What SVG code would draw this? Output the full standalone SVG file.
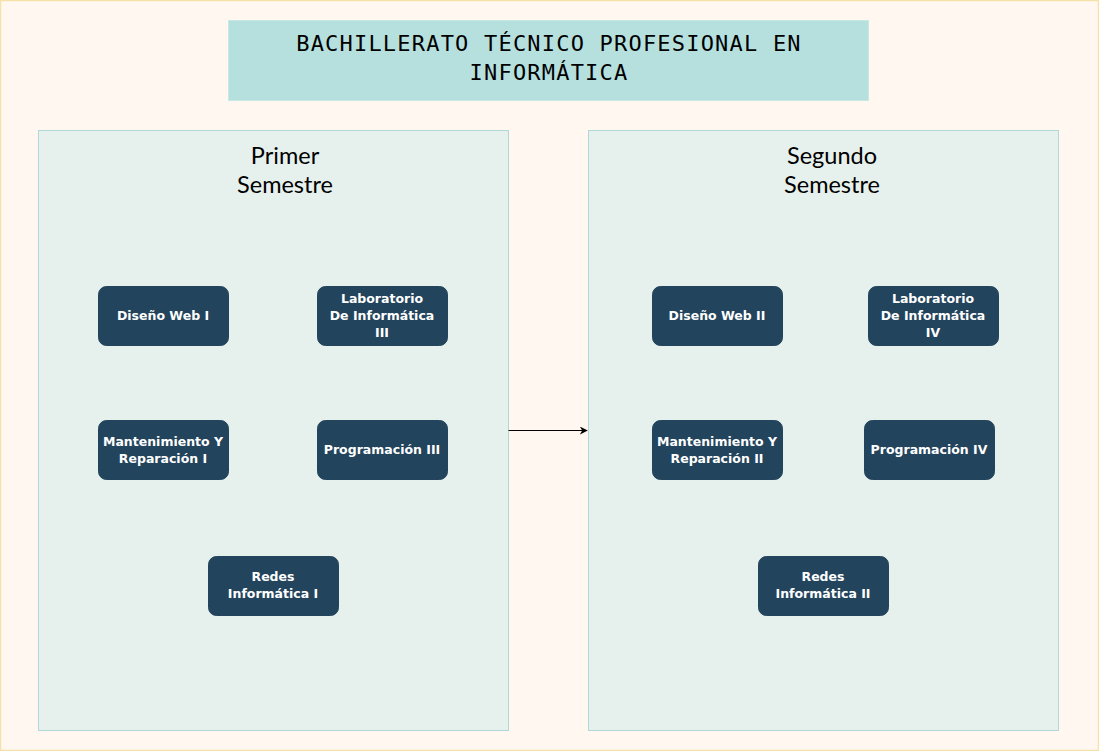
<svg xmlns="http://www.w3.org/2000/svg" width="1099" height="751" viewBox="0 0 1099 751">
<defs>
<style>
.node rect{fill:#23445D;stroke:#23445D;}
.node text{font-family:"DejaVu Sans","Liberation Sans",sans-serif;font-weight:bold;font-size:12.5px;fill:#FFFFFF;text-anchor:middle;}
.cont{fill:#E6F0EC;stroke:#B0D8D6;stroke-width:1;}
.sem{font-family:Lato,"Liberation Sans",sans-serif;font-size:23.5px;fill:#000;text-anchor:middle;}
</style>
<marker id="arr" viewBox="0 0 10 10" refX="9" refY="5" markerWidth="8" markerHeight="8" orient="auto" markerUnits="userSpaceOnUse">
<path d="M0,0 L10,5 L0,10 L3,5 z" fill="#000"/>
</marker>
</defs>
<rect x="0.5" y="0.5" width="1098" height="750" fill="#FFF7F0" stroke="#F5E2A8" stroke-width="1.5"/>
<g id="title">
<rect x="228.5" y="20.5" width="640" height="80" fill="#B6E0DE" stroke="#C8E8E4"/>
<text font-family="'DejaVu Sans Mono','Liberation Mono',monospace" font-size="22" text-anchor="middle" fill="#000" letter-spacing="1.2"><tspan x="549" y="51">BACHILLERATO TÉCNICO PROFESIONAL EN</tspan><tspan x="549" y="80">INFORMÁTICA</tspan></text>
</g>
<g id="primer">
<rect class="cont" x="38.5" y="130.5" width="470" height="600"/>
<text class="sem"><tspan x="285" y="164">Primer</tspan><tspan x="285" y="193">Semestre</tspan></text>
</g>
<g id="segundo">
<rect class="cont" x="588.5" y="130.5" width="470" height="600"/>
<text class="sem"><tspan x="832" y="164">Segundo</tspan><tspan x="832" y="193">Semestre</tspan></text>
</g>
<g id="connectors">
<line x1="508.5" y1="430.5" x2="587" y2="430.5" stroke="#000" stroke-width="1" marker-end="url(#arr)"/>
</g>
<g id="dw1" class="node"><rect x="98.5" y="286.5" width="130" height="59" rx="8"/><text x="163" y="320">Diseño Web I</text></g>
<g id="lab3" class="node"><rect x="317.5" y="286.5" width="130" height="59" rx="8"/><text x="382"><tspan x="382" y="303">Laboratorio</tspan><tspan x="382" y="320">De Informática</tspan><tspan x="382" y="337">III</tspan></text></g>
<g id="mr1" class="node"><rect x="98.5" y="420.5" width="130" height="59" rx="8"/><text><tspan x="163" y="446">Mantenimiento Y</tspan><tspan x="163" y="463">Reparación I</tspan></text></g>
<g id="prog3" class="node"><rect x="317.5" y="420.5" width="130" height="59" rx="8"/><text x="382" y="454">Programación III</text></g>
<g id="red1" class="node"><rect x="208.5" y="556.5" width="130" height="59" rx="8"/><text><tspan x="273" y="581">Redes</tspan><tspan x="273" y="598">Informática I</tspan></text></g>
<g id="dw2" class="node"><rect x="652.5" y="286.5" width="130" height="59" rx="8"/><text x="717" y="320">Diseño Web II</text></g>
<g id="lab4" class="node"><rect x="868.5" y="286.5" width="130" height="59" rx="8"/><text><tspan x="933" y="303">Laboratorio</tspan><tspan x="933" y="320">De Informática</tspan><tspan x="933" y="337">IV</tspan></text></g>
<g id="mr2" class="node"><rect x="652.5" y="420.5" width="130" height="59" rx="8"/><text><tspan x="717" y="446">Mantenimiento Y</tspan><tspan x="717" y="463">Reparación II</tspan></text></g>
<g id="prog4" class="node"><rect x="864.5" y="420.5" width="130" height="59" rx="8"/><text x="929" y="454">Programación IV</text></g>
<g id="red2" class="node"><rect x="758.5" y="556.5" width="130" height="59" rx="8"/><text><tspan x="823" y="581">Redes</tspan><tspan x="823" y="598">Informática II</tspan></text></g>
</svg>
